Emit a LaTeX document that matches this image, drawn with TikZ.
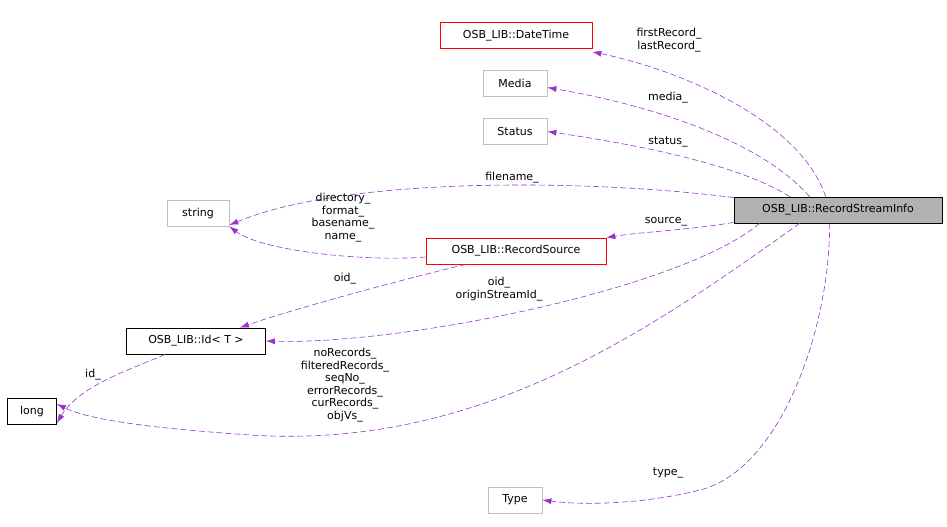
\documentclass[tikz,border=0pt]{standalone}
\usepackage{fontspec}
\setmainfont{DejaVu Sans}
\usetikzlibrary{arrows.meta}
\begin{document}
\begin{tikzpicture}[x=1pt,y=-1pt,
 box/.style={draw=#1,fill=white,minimum height=26pt,inner sep=0pt,font=\fontsize{11}{12}\selectfont,line width=0.7pt},
 box/.default=black,
 e/.style={draw={rgb,255:red,155;green,50;blue,205},dashed,dash pattern=on 6pt off 3pt,line width=0.6pt,-{Latex[length=9pt,width=6pt]}},
 lab/.style={font=\fontsize{11}{12.5}\selectfont,align=center,inner sep=0pt}]
\useasboundingbox (0,0) rectangle (947,527);
\node[box=red,minimum width=152pt] (dt) at (516,35.5) {OSB\_LIB::DateTime};
\node[box=gray!50,minimum width=64pt] (media) at (515,83.5) {Media};
\node[box=gray!50,minimum width=64pt] (status) at (515,131.5) {Status};
\node[box=gray!50,minimum width=62pt] (str) at (198,213) {string};
\node[box=black,fill=gray!60,minimum width=208pt] (rsi) at (838,210) {OSB\_LIB::RecordStreamInfo};
\node[box=red,minimum width=180pt] (rs) at (516,251) {OSB\_LIB::RecordSource};
\node[box=black,minimum width=139pt] (id) at (196,341) {OSB\_LIB::Id< T >};
\node[box=black,minimum width=49pt] (long) at (32,411) {long};
\node[box=gray!50,minimum width=54pt] (type) at (515,500) {Type};

\draw[e] ([xshift=92pt]rsi.north west) .. controls (800,120) and (680,70) .. ([yshift=-3pt]dt.south east);
\draw[e] ([xshift=76pt]rsi.north west) .. controls (760,140) and (650,105) .. ([yshift=-4pt]media.east);
\draw[e] ([xshift=56pt]rsi.north west) .. controls (740,165) and (640,145) .. (status.east);
\draw[e] ([yshift=-1pt]rsi.north west) .. controls (600,180) and (350,175) .. ([yshift=-12pt]str.east);
\draw[e] ([yshift=1pt]rsi.south west) .. controls (690,230) and (640,232) .. (rs.north east);
\draw[e] ([yshift=-6pt]rs.west) .. controls (360,262) and (260,250) .. (str.south east);
\draw[e] ([xshift=-50pt]rs.south) .. controls (400,280) and (290,310) .. ([xshift=44pt]id.north);
\draw[e] ([xshift=26pt]rsi.south west) .. controls (680,290) and (400,345) .. (id.east);
\draw[e] ([xshift=-31pt]id.south) .. controls (130,370) and (80,385) .. ([yshift=-12pt]long.east);
\draw[e] ([xshift=66pt]rsi.south west) .. controls (650,330) and (480,450) .. (250,435) .. controls (150,428) and (90,420) .. ([yshift=7pt]long.east);
\draw[e] ([xshift=96pt]rsi.south west) .. controls (830,330) and (780,470) .. (700,490) .. controls (640,505) and (580,505) .. (type.east);

\node[lab,anchor=north] at (669,28) {firstRecord\_\\lastRecord\_};
\node[lab] at (668,98) {media\_};
\node[lab] at (668,142) {status\_};
\node[lab] at (512,178) {filename\_};
\node[lab] at (666,222) {source\_};
\node[lab,anchor=north] at (343,193) {directory\_\\format\_\\basename\_\\name\_};
\node[lab] at (345,279) {oid\_};
\node[lab,anchor=north] at (499,277) {oid\_\\originStreamId\_};
\node[lab] at (93,375) {id\_};
\node[lab,anchor=north] at (345,348) {noRecords\_\\filteredRecords\_\\seqNo\_\\errorRecords\_\\curRecords\_\\objVs\_};
\node[lab] at (668,473) {type\_};
\end{tikzpicture}
\end{document}
